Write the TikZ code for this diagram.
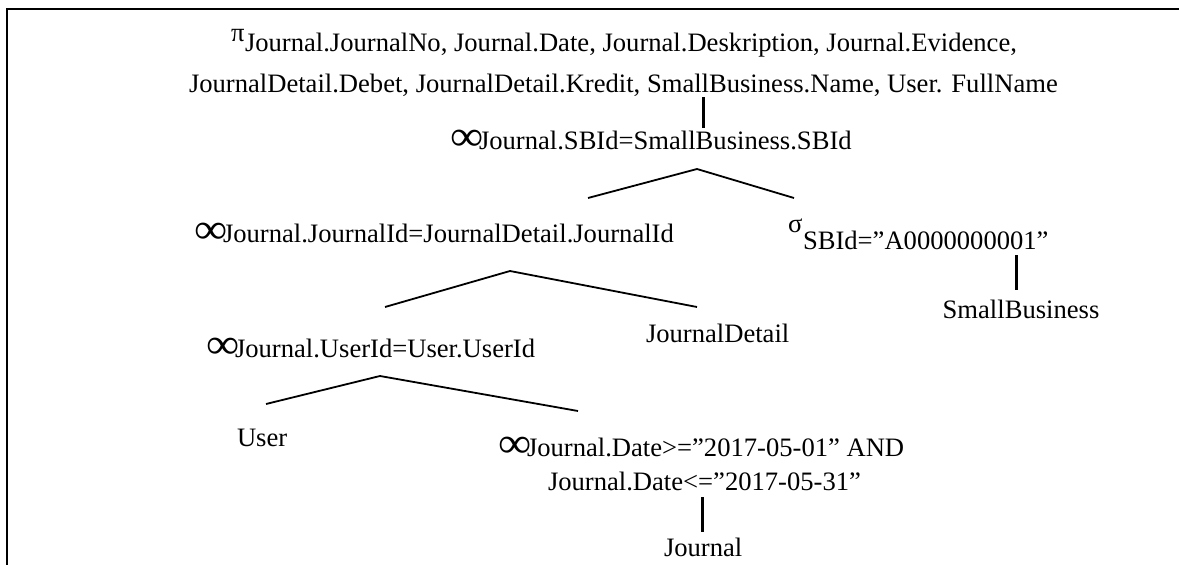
\documentclass[tikz,border=0pt]{standalone}
\usepackage{fontspec}
\setmainfont{Liberation Serif}
\newcommand{\infsym}{\makebox[24pt][c]{\raisebox{-1.5pt}{\scalebox{1.75}[1.6]{∞}}}}
\begin{document}
\begin{tikzpicture}[x=1pt,y=-1pt,
  lbl/.style={inner sep=0pt, outer sep=0pt, anchor=base west, font=\fontsize{26.6}{32}\selectfont},
  edge/.style={line width=1.8pt},
  vedge/.style={line width=3pt},
  frame/.style={line width=2.5pt}]
\useasboundingbox (0,0) rectangle (1179,565);
\draw[frame] (7,565) -- (7,9) -- (1179,9);

% projection
\node[lbl] (pi) at (231,41) {π};
\node[lbl] (proj1) at (245,51) {Journal.JournalNo, Journal.Date, Journal.Deskription, Journal.Evidence,};
\node[lbl] (proj2) at (189,92) {JournalDetail.Debet, JournalDetail.Kredit, SmallBusiness.Name, User. FullName};

% join 1
\node[lbl] (j1) at (455,149) {\infsym Journal.SBId=SmallBusiness.SBId};
\coordinate (v1a) at (703,97);
\coordinate (v1b) at (703,128);
\draw[vedge] (v1a) -- (v1b);
\coordinate (j1apex) at (697,169);
\coordinate (j1l) at (588,198);
\coordinate (j1r) at (794,198);
\draw[edge] (j1l) -- (j1apex) -- (j1r);

% join 2
\node[lbl] (j2) at (199,242) {\infsym Journal.JournalId=JournalDetail.JournalId};
% selection SBId
\node[lbl] (sigma) at (788,232) {σ};
\node[lbl] (sel1) at (803,249) {SBId=”A0000000001”};
\coordinate (v2a) at (1016,255);
\coordinate (v2b) at (1016,290);
\draw[vedge] (v2a) -- (v2b);
\node[lbl, anchor=base] (sb) at (1021,318) {SmallBusiness};

\coordinate (j2apex) at (510,271);
\coordinate (j2l) at (385,307);
\coordinate (j2r) at (697,307);
\draw[edge] (j2l) -- (j2apex) -- (j2r);

% join 3
\node[lbl] (j3) at (211,357) {\infsym Journal.UserId=User.UserId};
\node[lbl] (jd) at (646,342) {JournalDetail};
\coordinate (j3apex) at (380,376);
\coordinate (j3l) at (266,404);
\coordinate (j3r) at (578,411);
\draw[edge] (j3l) -- (j3apex) -- (j3r);

\node[lbl] (user) at (237,446) {User};
\node[lbl] (sela) at (503,456) {\infsym Journal.Date>=”2017-05-01” AND};
\node[lbl] (selb) at (548,490) {Journal.Date<=”2017-05-31”};
\coordinate (v3a) at (702,497);
\coordinate (v3b) at (702,532);
\draw[vedge] (v3a) -- (v3b);
\node[lbl] (journal) at (664,556) {Journal};
\end{tikzpicture}
\end{document}
